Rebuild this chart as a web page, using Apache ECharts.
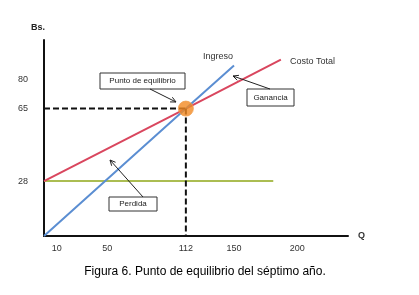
<!DOCTYPE html>
<html>
<head>
<meta charset="utf-8">
<script src="https://cdn.jsdelivr.net/npm/echarts@6/dist/echarts.min.js"></script>
<style>
  html, body { margin: 0; padding: 0; background: #fff; }
  #chart { width: 419px; height: 295px; }
</style>
</head>
<body>
<div id="chart"></div>
<script>
// valores (Q = cantidad, Bs. = bolivares)
var xTicks = [10, 50, 112, 150, 200];
var yTicks = [28, 65, 80];
var equilibrio = [112, 65];
var ingreso = [[0, 0], [112, 65], [150, 87]];
var costoTotal = [[0, 28], [112, 65], [187, 90]];
var costoFijo = [[0, 28], [181, 28]];

var font = 'Liberation Sans, Arial, sans-serif';

// flechas de las notas
function flecha(x1, y1, x2, y2) {
    var ang = Math.atan2(y2 - y1, x2 - x1);
    var L = 6, a = 0.45;
    return [
        { type: 'polyline', shape: { points: [[x1, y1], [x2, y2]] }, style: { stroke: '#222', lineWidth: 1 }, z: 20 },
        { type: 'polyline', shape: { points: [
            [x2 - L * Math.cos(ang - a), y2 - L * Math.sin(ang - a)],
            [x2, y2],
            [x2 - L * Math.cos(ang + a), y2 - L * Math.sin(ang + a)]
        ] }, style: { stroke: '#222', lineWidth: 1, fill: null }, z: 20 }
    ];
}
function caja(x, y, w, h, txt) {
    return [
        { type: 'rect', shape: { x: x, y: y, width: w, height: h }, style: { fill: '#fff', stroke: '#333', lineWidth: 1 }, z: 20 },
        { type: 'text', x: x + w / 2, y: y + h / 2, style: { text: txt, fill: '#222', font: '8px ' + font, align: 'center', verticalAlign: 'middle' }, z: 21 }
    ];
}

var graficos = [].concat(
    caja(100, 73, 85, 16, 'Punto de equilibrio'),
    flecha(150, 89, 176, 102),
    caja(247, 89, 47, 17, 'Ganancia'),
    flecha(270, 89, 233, 76),
    caja(109, 197, 48, 14, 'Perdida'),
    flecha(143, 197, 110, 160),
    [
        { type: 'text', x: 203, y: 52, style: { text: 'Ingreso', fill: '#333', font: '9px ' + font }, z: 20 },
        { type: 'text', x: 290, y: 57, style: { text: 'Costo Total', fill: '#333', font: '9px ' + font }, z: 20 },
        { type: 'text', x: 205, y: 272, style: { text: 'Figura 6. Punto de equilibrio del séptimo año.', fill: '#000', font: '12px ' + font, align: 'center', verticalAlign: 'middle' }, z: 20 }
    ]
);

var option = {
    animation: false,
    backgroundColor: '#fff',
    grid: { left: 44, right: 71, top: 40, bottom: 59, outerBoundsMode: 'none' },
    xAxis: {
        type: 'value',
        min: 0,
        max: 240,
        name: 'Q',
        nameLocation: 'end',
        nameGap: 10,
        nameTextStyle: { color: '#333', fontSize: 9, fontWeight: 'bold', fontFamily: font },
        axisLine: { lineStyle: { color: '#111', width: 2 } },
        axisTick: { show: false },
        splitLine: { show: false },
        axisLabel: { customValues: xTicks, color: '#333', fontSize: 9, fontFamily: font, margin: 8 }
    },
    yAxis: {
        type: 'value',
        min: 0,
        max: 100,
        name: 'Bs.',
        nameLocation: 'end',
        nameGap: 8,
        nameTextStyle: { color: '#222', fontSize: 9, fontWeight: 'bold', fontFamily: font, padding: [0, 12, 0, 0] },
        axisLine: { show: true, lineStyle: { color: '#111', width: 2 } },
        axisTick: { show: false },
        splitLine: { show: false },
        axisLabel: { customValues: yTicks, color: '#333', fontSize: 9, fontFamily: font, margin: 16 }
    },
    series: [
        {
            name: 'Costo Fijo', type: 'line', data: costoFijo, symbol: 'none',
            lineStyle: { color: '#abbd52', width: 2 }
        },
        {
            name: 'Costo Total', type: 'line', data: costoTotal, symbol: 'none',
            lineStyle: { color: '#d9465e', width: 2 }
        },
        {
            name: 'Ingreso', type: 'line', data: ingreso, symbol: 'none',
            lineStyle: { color: '#5b8ed2', width: 2 }
        },
        {
            type: 'line', data: [[0, equilibrio[1]], equilibrio], symbol: 'none',
            lineStyle: { color: '#111', width: 2, type: [6, 3] }
        },
        {
            type: 'line', data: [equilibrio, [equilibrio[0], 0]], symbol: 'none',
            lineStyle: { color: '#111', width: 2, type: [6, 3] }
        },
        {
            type: 'scatter', data: [equilibrio], symbolSize: 15, z: 10,
            itemStyle: { color: '#f38a22', borderColor: '#f0a050', borderWidth: 1 }
        }
    ],
    graphic: graficos
};

var chart = echarts.init(document.getElementById('chart'));
chart.setOption(option);
</script>
</body>
</html>
